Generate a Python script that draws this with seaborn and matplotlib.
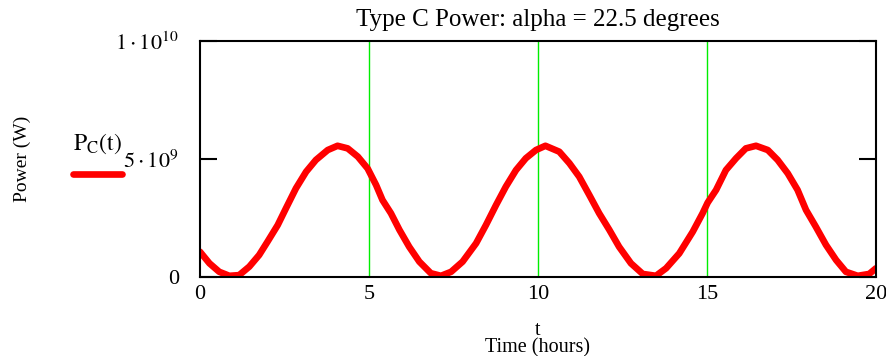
import matplotlib
matplotlib.use("Agg")
import matplotlib.pyplot as plt
import seaborn as sns
import pandas as pd

# Time samples (hours) and power values (units of 1e9 W)
time_h = [0.0, 0.28, 0.57, 0.87, 1.16, 1.46, 1.75, 2.0, 2.3, 2.54, 2.84, 3.14,
          3.43, 3.78, 4.07, 4.37, 4.67, 4.96, 5.21, 5.4, 5.65, 5.9, 6.19, 6.49,
          6.83, 7.13, 7.43, 7.77, 8.17, 8.46, 8.76, 9.05, 9.35, 9.64, 9.94,
          10.22, 10.63, 10.93, 11.22, 11.52, 11.81, 12.11, 12.4, 12.75, 13.1,
          13.49, 13.79, 14.18, 14.58, 14.87, 15.02, 15.27, 15.56, 15.86, 16.15,
          16.45, 16.8, 17.09, 17.39, 17.68, 17.93, 18.22, 18.52, 18.82, 19.11,
          19.46, 19.8, 20.0]
power_e9 = [1.07, 0.58, 0.22, 0.05, 0.08, 0.44, 0.93, 1.5, 2.2, 2.9, 3.76, 4.46,
            4.96, 5.38, 5.56, 5.45, 5.1, 4.6, 3.9, 3.26, 2.7, 2.0, 1.28, 0.65,
            0.16, 0.05, 0.22, 0.65, 1.43, 2.2, 3.05, 3.83, 4.53, 5.03, 5.38,
            5.56, 5.31, 4.82, 4.25, 3.47, 2.7, 2.0, 1.28, 0.58, 0.13,
            0.05, 0.37, 1.0, 1.92, 2.7, 3.15, 3.69, 4.53, 5.03, 5.45,
            5.56, 5.38, 4.96, 4.39, 3.69, 2.84, 2.13, 1.36, 0.72, 0.22,
            0.05, 0.13, 0.37]

x_ticks = [0, 5, 10, 15, 20]
y_ticks = [0, 5e9, 1e10]
y_tick_labels = ["0", r"$5\cdot10^{9}$", r"$1\cdot10^{10}$"]

title = "Type C Power: alpha = 22.5 degrees"
series_label = r"$\mathrm{P_{C}(t)}$"

df = pd.DataFrame({"t": time_h, "P": [v * 1e9 for v in power_e9]})

sns.set_theme(style="white")
plt.rcParams["font.family"] = ["Liberation Serif", "DejaVu Serif"]
plt.rcParams["mathtext.fontset"] = "stix"
plt.rcParams["text.color"] = "black"
plt.rcParams["axes.labelcolor"] = "black"
plt.rcParams["xtick.color"] = "black"
plt.rcParams["ytick.color"] = "black"

fig = plt.figure(figsize=(8.86, 3.56), dpi=100)
ax = fig.add_axes([0.2257, 0.2219, 0.9887 - 0.2257, 0.8848 - 0.2219])

sns.lineplot(data=df, x="t", y="P", ax=ax, color="#ff0000", linewidth=4.8,
             label=series_label, zorder=3)

ax.set_xlim(0, 20)
ax.set_ylim(0, 1e10)
ax.set_xticks(x_ticks)
ax.set_xticklabels([str(v) for v in x_ticks])
ax.set_yticks(y_ticks)
ax.set_yticklabels(y_tick_labels)

ax.grid(False)
for xv in x_ticks[1:]:
    ax.axvline(xv, color="#00ee00", linewidth=1.0, zorder=1)

for s in ax.spines.values():
    s.set_color("black")
    s.set_linewidth(1.5)
    s.set_visible(True)
    s.set_zorder(4)

ax.tick_params(axis="y", direction="in", length=12.5, width=1.5, left=True,
               right=True, colors="black", labelsize=16, pad=15)
ax.tick_params(axis="x", length=0, labelsize=16, pad=6, colors="black")

ax.set_title(title, fontsize=18, pad=11, color="black")
ax.set_xlabel("t\nTime (hours)", fontsize=14.5, labelpad=12, linespacing=0.85)
ax.set_ylabel("Power (W)", fontsize=14)
ax.yaxis.set_label_coords(-0.25, 0.5)

leg = ax.legend(loc="center", bbox_to_anchor=(0.11, 0.56),
                bbox_transform=fig.transFigure, frameon=False,
                title=series_label, title_fontsize=17, handlelength=3.2,
                handletextpad=0, labelspacing=0, borderaxespad=0)
leg._legend_box.sep = 9
for t in leg.get_texts():
    t.set_text("")

fig.savefig("out.png", dpi=100)
